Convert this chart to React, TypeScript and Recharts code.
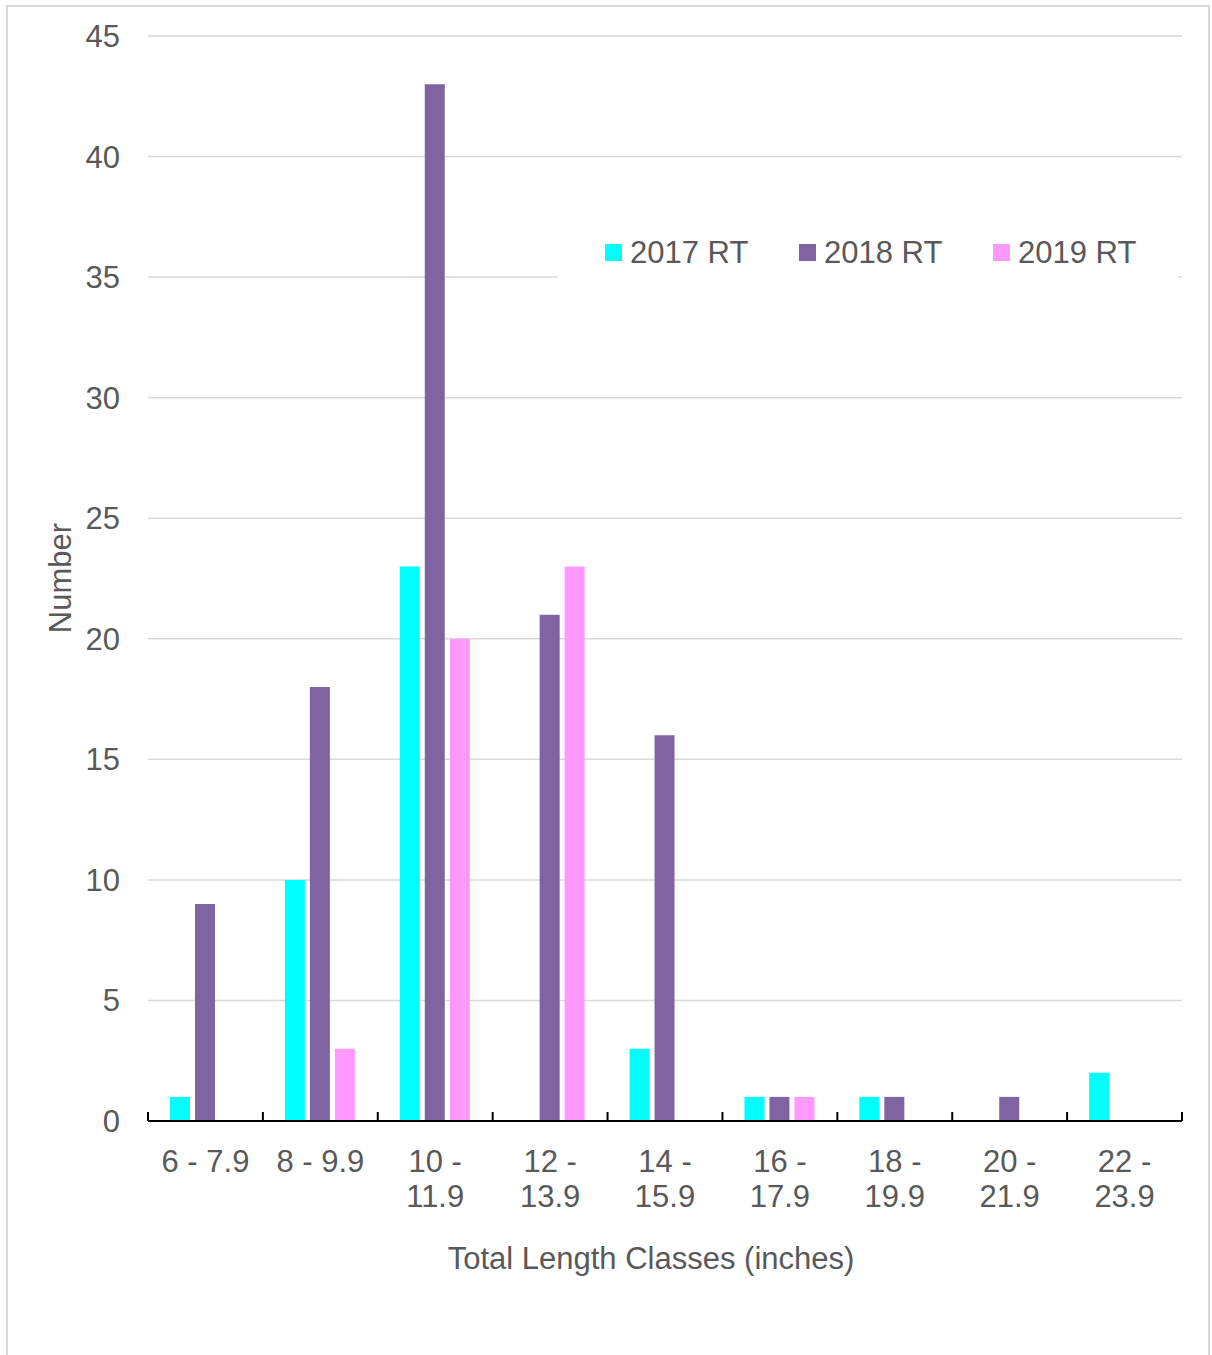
import React from 'react';
import { BarChart, Bar, XAxis, YAxis, CartesianGrid, Legend } from 'recharts';

const LENGTH_CLASSES = ['6 - 7.9', '8 - 9.9', '10 - 11.9', '12 - 13.9', '14 - 15.9', '16 - 17.9', '18 - 19.9', '20 - 21.9', '22 - 23.9'];
const RT_2017 = [1, 10, 23, 0, 3, 1, 1, 0, 2];
const RT_2018 = [9, 18, 43, 21, 16, 1, 1, 1, 0];
const RT_2019 = [0, 3, 20, 23, 0, 1, 0, 0, 0];
const Y_TICKS = [0, 5, 10, 15, 20, 25, 30, 35, 40, 45];

const SERIES = [
  { key: 'rt2017', name: '2017 RT', color: '#00FFFF' },
  { key: 'rt2018', name: '2018 RT', color: '#8064A2' },
  { key: 'rt2019', name: '2019 RT', color: '#FF99FF' },
];

const data = LENGTH_CLASSES.map((name, i) => ({
  name,
  rt2017: RT_2017[i],
  rt2018: RT_2018[i],
  rt2019: RT_2019[i],
}));

const FONT = '"Liberation Sans", Arial, sans-serif';
const TEXT = '#595959';
const FS = 31;

const CHART_W = 1200;
const CHART_H = 1350;
const MARGIN = { top: 29, right: 26, left: 60, bottom: 136 };
const YAXIS_W = 80;
const BAND = (CHART_W - MARGIN.left - YAXIS_W - MARGIN.right) / LENGTH_CLASSES.length;

const XTick = (props: any) => {
  const { x, y, payload, index } = props;
  const label: string = payload.value;
  const lines = label.length > 7 ? [label.slice(0, label.indexOf('-') + 1), label.slice(label.indexOf('-') + 2)] : [label];
  const left = x - BAND / 2;
  return (
    <g>
      <line x1={left} x2={left} y1={y - 9} y2={y} stroke="#000" strokeWidth={2} />
      {index === LENGTH_CLASSES.length - 1 && (
        <line x1={x + BAND / 2} x2={x + BAND / 2} y1={y - 9} y2={y} stroke="#000" strokeWidth={2} />
      )}
      {lines.map((l, i) => (
        <text key={i} x={x} y={y + 40 + i * 35} textAnchor="middle" dominantBaseline="central"
          fill={TEXT} fontSize={FS} fontFamily={FONT}>
          {l}
        </text>
      ))}
    </g>
  );
};

const LegendBox = () => (
  <div style={{ background: '#fff', width: 621, height: 60, display: 'flex', alignItems: 'center', paddingLeft: 48, boxSizing: 'border-box', overflow: 'visible' }}>
    {SERIES.map(s => (
      <div key={s.key} style={{ width: 194, flexShrink: 0, display: 'flex', alignItems: 'center' }}>
        <span style={{ width: 17, height: 17, background: s.color, display: 'inline-block', marginRight: 8 }} />
        <span style={{ fontFamily: FONT, fontSize: FS, color: TEXT, lineHeight: 1 }}>{s.name}</span>
      </div>
    ))}
  </div>
);

export default function App() {
  return (
    <div style={{ position: 'absolute', left: 6, top: 5, width: CHART_W, height: 1360, border: '2px solid #d9d9d9', background: '#fff' }}>
      <BarChart width={CHART_W} height={CHART_H} data={data} margin={MARGIN} barSize={20} barGap={5}>
        <CartesianGrid vertical={false} stroke="#d9d9d9" strokeWidth={1.5} />
        <XAxis dataKey="name" interval={0} tickLine={false} tickSize={0} tickMargin={0} height={100}
          axisLine={{ stroke: '#000', strokeWidth: 2 }} tick={<XTick />}
          label={() => (
            <text x={643} y={1251} textAnchor="middle" dominantBaseline="central" fill={TEXT} fontSize={FS} fontFamily={FONT}>
              Total Length Classes (inches)
            </text>
          )} />
        <YAxis width={YAXIS_W} domain={[0, 45]} ticks={Y_TICKS} interval={0} axisLine={false} tickLine={false}
          tickSize={6} tickMargin={22}
          tick={{ fill: TEXT, fontSize: FS, fontFamily: FONT }}
          label={() => (
            <text x={52} y={571} transform="rotate(-90 52 571)" textAnchor="middle" dominantBaseline="central"
              fill={TEXT} fontSize={FS} fontFamily={FONT}>
              Number
            </text>
          )} />
        <Legend layout="horizontal" verticalAlign="middle" content={<LegendBox />}
          wrapperStyle={{ top: 215, left: 549, width: 621, height: 60 }} />
        {SERIES.map(s => (
          <Bar key={s.key} dataKey={s.key} name={s.name} fill={s.color} isAnimationActive={false} />
        ))}
      </BarChart>
    </div>
  );
}
